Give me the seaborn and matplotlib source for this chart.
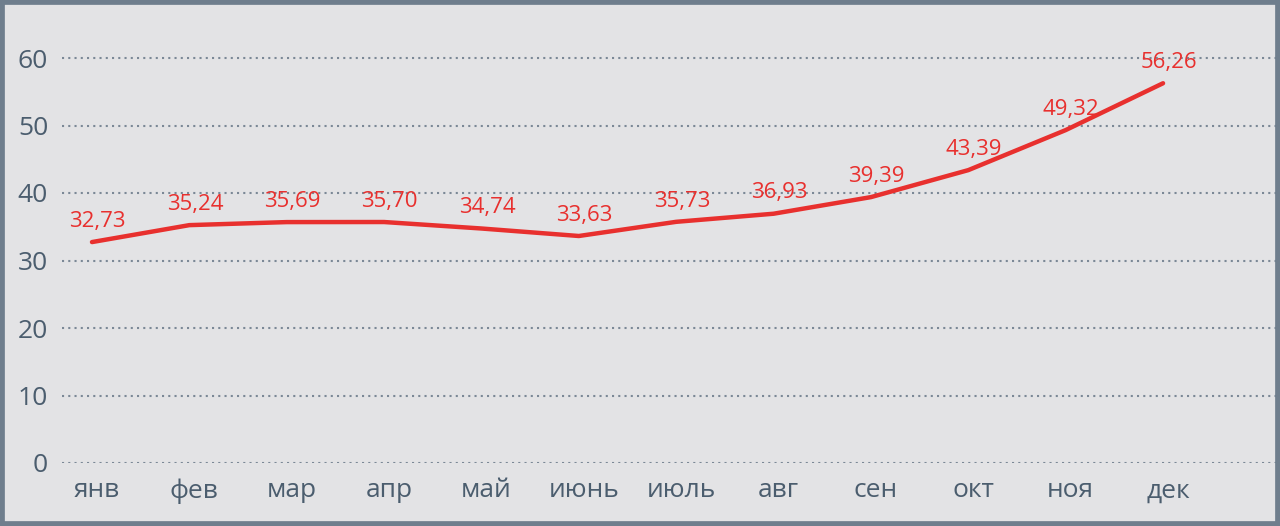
import matplotlib
matplotlib.use("Agg")
import matplotlib.pyplot as plt
import matplotlib.transforms as mtransforms
from matplotlib.patches import Rectangle
import seaborn as sns
import pandas as pd

months = ["янв", "фев", "мар", "апр", "май", "июнь", "июль", "авг", "сен", "окт", "ноя", "дек"]
values = [32.73, 35.24, 35.69, 35.70, 34.74, 33.63, 35.73, 36.93, 39.39, 43.39, 49.32, 56.26]
labels = ["32,73", "35,24", "35,69", "35,70", "34,74", "33,63", "35,73", "36,93", "39,39", "43,39", "49,32", "56,26"]
yticks = [0, 10, 20, 30, 40, 50, 60]

BG = "#e3e3e5"
FRAME = "#6f7e8d"
TEXT = "#4b5d6e"
GRID = "#7b8896"
RED = "#e8302e"

sns.set_theme(style="white")
plt.rcParams["font.family"] = ["Open Sans", "DejaVu Sans"]

df = pd.DataFrame({"month": months, "value": values})

fig = plt.figure(figsize=(12.8, 5.26), dpi=100, facecolor=BG)
ax = fig.add_axes([62 / 1280, 1 - 463 / 526, (1276 - 62) / 1280, (463 - 17.5) / 526])
ax.set_facecolor(BG)

sns.lineplot(data=df, x="month", y="value", sort=False, color=RED, linewidth=3.2, ax=ax)

ax.set_xlim(-0.308, 12.16)
ax.set_ylim(0, 66)
ax.set_yticks(yticks)
ax.set_yticklabels([str(v) for v in yticks])
ax.set_xticks(range(len(months)))
ax.set_xticklabels(months)
for s in ax.spines.values():
    s.set_visible(False)
ax.tick_params(axis="both", length=0, colors=TEXT, labelsize=19)
ax.tick_params(axis="y", pad=10)
ax.tick_params(axis="x", pad=11)
ax.set_xlabel("")
ax.set_ylabel("")
for y in yticks:
    ax.axhline(y, color=GRID, linewidth=1.5, linestyle=(0, (1, 2)), zorder=0)

shift = mtransforms.ScaledTranslation(5 / 100, 0, fig.dpi_scale_trans)
for lab in ax.get_xticklabels():
    lab.set_transform(lab.get_transform() + shift)

for i, (v, t) in enumerate(zip(values, labels)):
    ax.annotate(t, (i, v), xytext=(4, 11), textcoords="offset points",
                ha="center", va="baseline", color=RED, fontsize=16, clip_on=False)

fig.patches.append(Rectangle((0, 0), 1, 1, transform=fig.transFigure, fill=False,
                             edgecolor=FRAME, linewidth=7, zorder=10))

fig.savefig("out.png", dpi=100, facecolor=BG)
